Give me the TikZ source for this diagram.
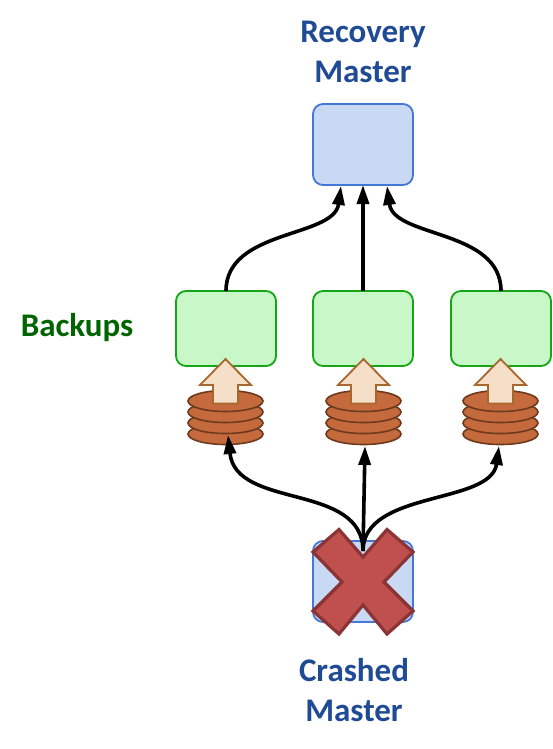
\documentclass[tikz,border=0pt]{standalone}
\usepackage{fontspec}
\setmainfont{Carlito}
\usetikzlibrary{arrows.meta,shapes.geometric}
\definecolor{bluefill}{HTML}{C9D9F3}
\definecolor{blueline}{HTML}{4477D6}
\definecolor{greenfill}{HTML}{C8F8C8}
\definecolor{greenline}{HTML}{16A516}
\definecolor{diskfill}{HTML}{C46A3C}
\definecolor{diskline}{HTML}{6E3A1E}
\definecolor{upfill}{HTML}{F5DFC9}
\definecolor{upline}{HTML}{A8672C}
\definecolor{xfill}{HTML}{C0504D}
\definecolor{xline}{HTML}{8A3435}
\definecolor{titleblue}{HTML}{1F4A94}
\definecolor{titlegreen}{HTML}{006400}
\tikzset{
  x=1pt,y=-1pt,
  master/.style={draw=blueline,fill=bluefill,line width=1.8pt,rounded corners=10pt,minimum width=100pt,minimum height=81pt,inner sep=0pt,outer sep=0pt},
  backup/.style={draw=greenline,fill=greenfill,line width=1.8pt,rounded corners=10pt,minimum width=100pt,minimum height=75pt,inner sep=0pt,outer sep=0pt},
  disk/.style={draw=diskline,fill=diskfill,line width=1.6pt,ellipse,minimum width=75pt,minimum height=21pt,inner sep=0pt,outer sep=0pt},
  uparrow/.style={draw=upline,fill=upfill,line width=1.8pt,miter limit=10},
  link/.style={draw=black,line width=3.6pt,-{Triangle[length=19pt,width=12pt]}},
  crash/.style={draw=xline,fill=xfill,line width=3.2pt},
  title/.style={font=\bfseries\fontsize{33}{40}\selectfont,text=titleblue,align=center,inner sep=0pt},
}
\begin{document}
\begin{tikzpicture}
\useasboundingbox (0,0) rectangle (552,749);
\node[title] (rtitle) at (363,52) {Recovery\\Master};
\node[title] (ctitle) at (354,690) {Crashed\\Master};
\node[title,text=titlegreen] (btitle) at (77,328) {Backups};
\node[master] (recovery) at (363,144.5) {};
\node[master] (crashed) at (363,581.5) {};
\node[backup] (b1) at (226,328.5) {};
\node[backup] (b2) at (363,328.5) {};
\node[backup] (b3) at (501,328.5) {};
\foreach \n/\cx in {1/225.5,2/363.5,3/500.5}{
  \node[disk] (d\n d) at (\cx,434) {};
  \node[disk] (d\n c) at (\cx,423) {};
  \node[disk] (d\n b) at (\cx,412) {};
  \node[disk] (d\n a) at (\cx,401) {};
  \draw[uparrow,shift={(\cx,0)}] (0,359) -- (25.5,385) -- (12.5,385) -- (12.5,403.5) -- (-12.5,403.5) -- (-12.5,385) -- (-25.5,385) -- cycle;
}
\coordinate (rl) at (341,186);
\coordinate (rr) at (387,186);
\coordinate (src) at (363,551);
\coordinate (t1) at (228,435);
\coordinate (t2) at (365,446);
\coordinate (t3) at (499,446);
\draw[link] (b1.north) .. controls +(0,-62) and (334,238) .. (rl);
\draw[link] (b2.north) -- (recovery.south);
\draw[link] (b3.north) .. controls +(0,-62) and (394,238) .. (rr);
\draw[crash] (339,529.5) -- (363,557) -- (387,529.5) -- (413,552) -- (384,582) -- (413,611) -- (387,634) -- (363,605) -- (339,634) -- (313,611) -- (342,582) -- (313,552) -- cycle;
\draw[link] (src) .. controls (363,482) and (236,510) .. (t1);
\draw[link] (src) -- (t2);
\draw[link] (src) .. controls (363,490) and (491,505) .. (t3);
\end{tikzpicture}
\end{document}
